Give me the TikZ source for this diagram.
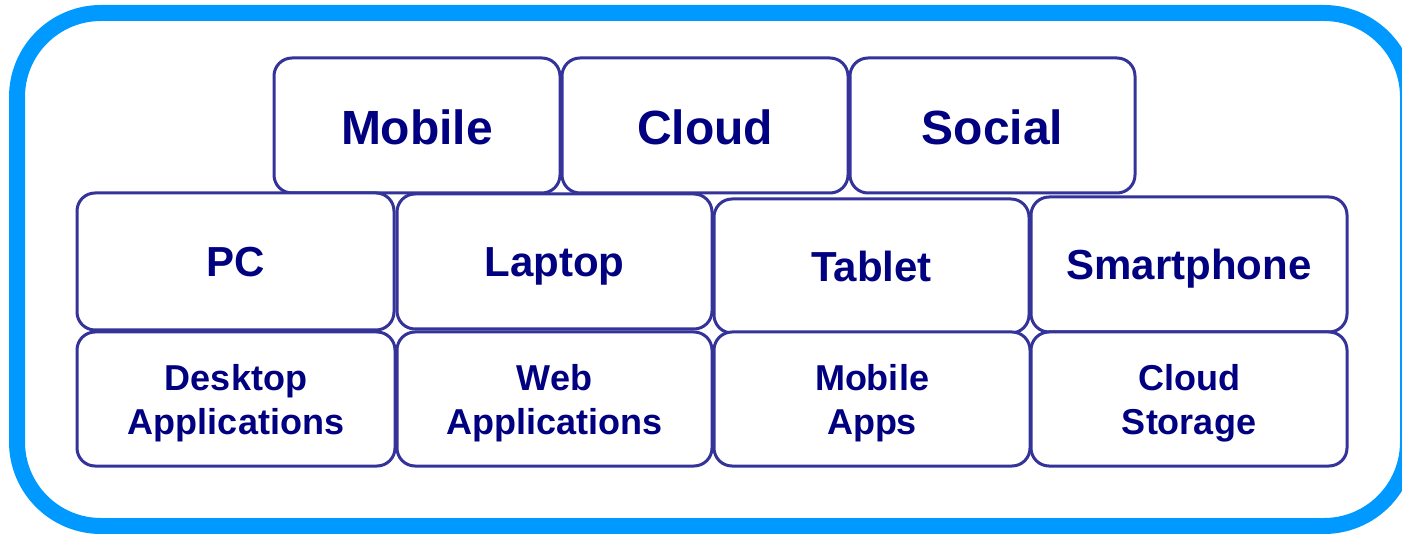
\documentclass[tikz,border=0pt]{standalone}
\usepackage{fontspec}
\setmainfont{Liberation Sans}
\definecolor{outerc}{HTML}{0099FF}
\definecolor{boxc}{HTML}{333399}
\definecolor{txtc}{HTML}{000080}
\newcommand{\mytopst}{\rule{0pt}{35.5pt}}
\newcommand{\mybotst}{\rule[-7.6pt]{0pt}{0pt}}
\tikzset{
  box/.style={draw=boxc, line width=3pt, rounded corners=18pt, inner sep=0pt,
    align=center, text=txtc, fill=white},
  bigbox/.style={box, font=\fontsize{48}{56}\selectfont\bfseries, text height=37.5pt, text depth=0pt},
  midbox/.style={box, font=\fontsize{42}{50}\selectfont\bfseries, text height=31pt, text depth=0pt},
  lowbox/.style={box, font=\fontsize{36}{44}\selectfont\bfseries},
}
\begin{document}
\begin{tikzpicture}[x=1pt, y=-1pt]
\useasboundingbox (0,0) rectangle (1402,534);
\draw[line width=16pt, outerc, rounded corners=84pt] (17,13) rectangle (1408,526);
% top row
\node[bigbox, minimum width=286pt, minimum height=135pt] (mobile) at (417,125.5) {Mobile};
\node[bigbox, minimum width=286pt, minimum height=135pt] (cloud) at (705,125.5) {Cloud};
\node[bigbox, minimum width=285pt, minimum height=135pt] (social) at (992.5,125.5) {Social};
% middle row
\node[midbox, minimum width=317pt, minimum height=137pt] (pc) at (235.5,261.5) {PC};
\node[midbox, minimum width=315pt, minimum height=135pt] (laptop) at (554.5,261.5) {Laptop};
\node[midbox, minimum width=315pt, minimum height=134pt] (tablet) at (871.5,266) {Tablet};
\node[midbox, minimum width=316pt, minimum height=135pt] (smart) at (1189,264.5) {Smartphone};
% bottom row
\node[lowbox, minimum width=318pt, minimum height=134pt] (desk) at (236,399) {\mytopst Desktop\\Applications\mybotst};
\node[lowbox, minimum width=315pt, minimum height=134pt] (web) at (554.5,399) {\mytopst Web\\Applications\mybotst};
\node[lowbox, minimum width=316pt, minimum height=134pt] (apps) at (872,399) {\mytopst Mobile\\Apps\mybotst};
\node[lowbox, minimum width=316pt, minimum height=134pt] (storage) at (1189,399) {\mytopst Cloud\\Storage\mybotst};
\end{tikzpicture}
\end{document}
